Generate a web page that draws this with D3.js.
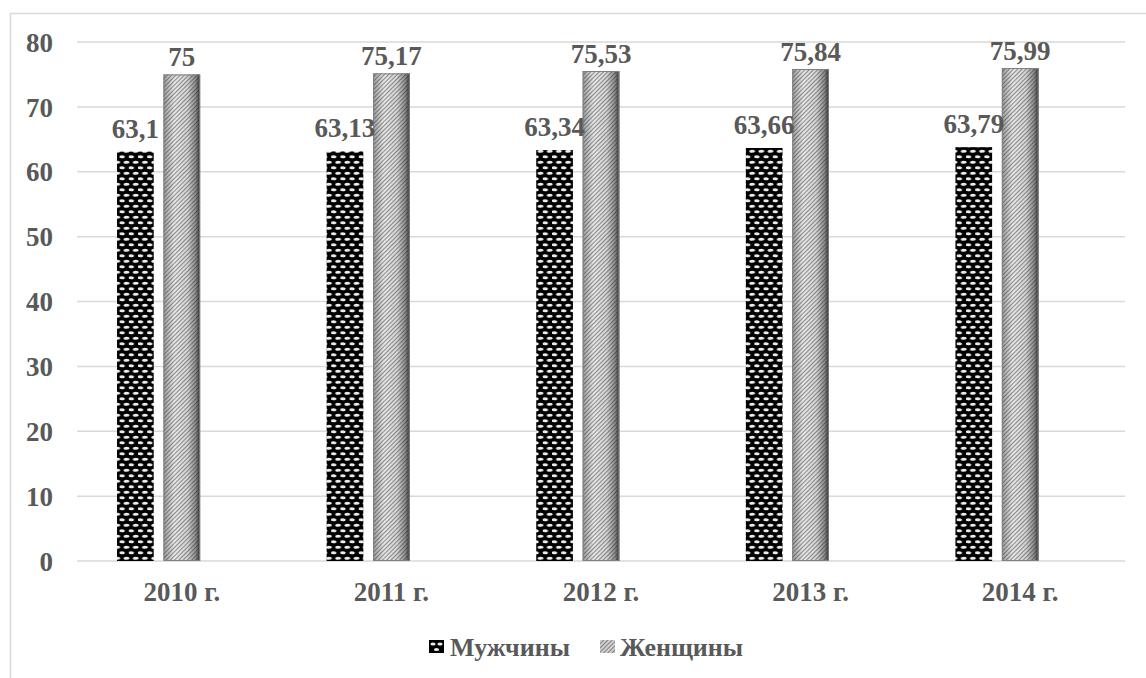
<!DOCTYPE html>
<html><head><meta charset="utf-8">
<script src="https://cdn.jsdelivr.net/npm/d3@7"></script>
<style>body{margin:0;background:#fff}svg{display:block}</style>
</head><body><svg id="c" width="1146" height="678"></svg>
<script>
const categories = ["2010 г.", "2011 г.", "2012 г.", "2013 г.", "2014 г."];
const seriesNames = ["Мужчины", "Женщины"];
const men = [63.1, 63.13, 63.34, 63.66, 63.79];
const women = [75, 75.17, 75.53, 75.84, 75.99];
const menLabels = ["63,1", "63,13", "63,34", "63,66", "63,79"];
const womenLabels = ["75", "75,17", "75,53", "75,84", "75,99"];
const yTicks = [0, 10, 20, 30, 40, 50, 60, 70, 80];

const svg = d3.select("#c");
const font = "'Liberation Serif','Times New Roman',serif";
const txt = "#595959";
const defs = svg.append("defs");

// men pattern: black with light ovals
const pm = defs.append("pattern").attr("id","pm").attr("patternUnits","userSpaceOnUse")
  .attr("width",9.2).attr("height",11);
pm.append("rect").attr("width",9.2).attr("height",11).attr("fill","#000");
[[2.3,2.75],[6.9,8.25],[-2.3,8.25],[11.5,8.25]].forEach(([cx,cy])=>
  pm.append("ellipse").attr("cx",cx).attr("cy",cy).attr("rx",2.9).attr("ry",1.6).attr("fill","#ececec"));

// women gradient + stripes
const gw = defs.append("linearGradient").attr("id","gw").attr("x1","0").attr("x2","1").attr("y1","0").attr("y2","0");
[["0%","#9a9a9a"],["30%","#e6e6e6"],["65%","#d4d4d4"],["88%","#8a8a8a"],["100%","#333"]]
  .forEach(([o,c])=>gw.append("stop").attr("offset",o).attr("stop-color",c));
const pw = defs.append("pattern").attr("id","pw").attr("patternUnits","userSpaceOnUse")
  .attr("width",3).attr("height",3).attr("patternTransform","rotate(45)");
pw.append("rect").attr("width",1).attr("height",3).attr("fill","rgba(30,30,30,0.45)");

// frame
svg.append("rect").attr("x",10.5).attr("y",13.5).attr("width",1200).attr("height",700)
  .attr("fill","none").attr("stroke","#d9d9d9").attr("stroke-width",1.5);

const y = d3.scaleLinear().domain([0,80]).range([561,42]);
const x0 = d3.scaleBand().domain(categories).range([77,1125]).paddingInner(0.382).paddingOuter(0.191);
const x1 = d3.scaleBand().domain(["m","w","_"]).range([0,x0.bandwidth()]).paddingInner(0.21).paddingOuter(0);

// gridlines
svg.append("g").selectAll("line").data(yTicks).join("line")
  .attr("x1",77).attr("x2",1125).attr("y1",d=>y(d)).attr("y2",d=>y(d))
  .attr("stroke","#d9d9d9").attr("stroke-width",1.5);

// y axis labels
const yAxis = d3.axisLeft(y).tickValues(yTicks).tickSize(0).tickPadding(0).tickFormat(d3.format("d"));
const ga = svg.append("g").attr("transform","translate(53,0)").call(yAxis);
ga.select(".domain").remove();
ga.selectAll("text").attr("font-family",font).attr("font-weight","bold").attr("font-size",27)
  .attr("fill",txt).attr("dy","0.34em");

// x axis labels
const xAxis = d3.axisBottom(x0).tickSize(0).tickPadding(0);
const gx = svg.append("g").attr("transform","translate(0,601)").call(xAxis);
gx.select(".domain").remove();
gx.selectAll("text").attr("font-family",font).attr("font-weight","bold").attr("font-size",27)
  .attr("fill",txt).attr("dy",0);

// bars
const gm = svg.append("g");
categories.forEach((c,i)=>{
  const xm = x0(c)+x1("m"), xw = x0(c)+x1("w"), bw = x1.bandwidth();
  gm.append("rect").attr("x",xm).attr("y",y(men[i])).attr("width",bw).attr("height",y(0)-y(men[i])).attr("fill","url(#pm)");
  gm.append("rect").attr("x",xw).attr("y",y(women[i])).attr("width",bw).attr("height",y(0)-y(women[i])).attr("fill","url(#gw)");
  gm.append("rect").attr("x",xw).attr("y",y(women[i])).attr("width",bw).attr("height",y(0)-y(women[i])).attr("fill","url(#pw)");
  gm.append("rect").attr("x",xw+0.5).attr("y",y(women[i])+0.5).attr("width",bw-1).attr("height",y(0)-y(women[i])-1)
    .attr("fill","none").attr("stroke","#808080").attr("stroke-width",1);
  gm.append("text").attr("x",xm+bw/2).attr("y",y(men[i])-14).attr("text-anchor","middle")
    .attr("font-family",font).attr("font-weight","bold").attr("font-size",27).attr("fill",txt).text(menLabels[i]);
  gm.append("text").attr("x",xw+bw/2).attr("y",y(women[i])-8).attr("text-anchor","middle")
    .attr("font-family",font).attr("font-weight","bold").attr("font-size",27).attr("fill",txt).text(womenLabels[i]);
});

// legend
const lg = svg.append("g");
lg.append("rect").attr("x",429).attr("y",640).attr("width",15).attr("height",13).attr("fill","#000");
lg.append("ellipse").attr("cx",433).attr("cy",644).attr("rx",2.6).attr("ry",1.5).attr("fill","#ececec");
lg.append("ellipse").attr("cx",440).attr("cy",644).attr("rx",2.6).attr("ry",1.5).attr("fill","#ececec");
lg.append("ellipse").attr("cx",436.5).attr("cy",649.5).attr("rx",2.6).attr("ry",1.5).attr("fill","#ececec");
lg.append("rect").attr("x",600).attr("y",640).attr("width",15).attr("height",13).attr("fill","#d0d0d0");
lg.append("rect").attr("x",600).attr("y",640).attr("width",15).attr("height",13).attr("fill","url(#pw)");
lg.append("text").attr("x",450).attr("y",656).attr("font-family",font).attr("font-weight","bold").attr("font-size",26).attr("fill",txt).text(seriesNames[0]);
lg.append("text").attr("x",620).attr("y",656).attr("font-family",font).attr("font-weight","bold").attr("font-size",26).attr("fill",txt).text(seriesNames[1]);
</script></body></html>
